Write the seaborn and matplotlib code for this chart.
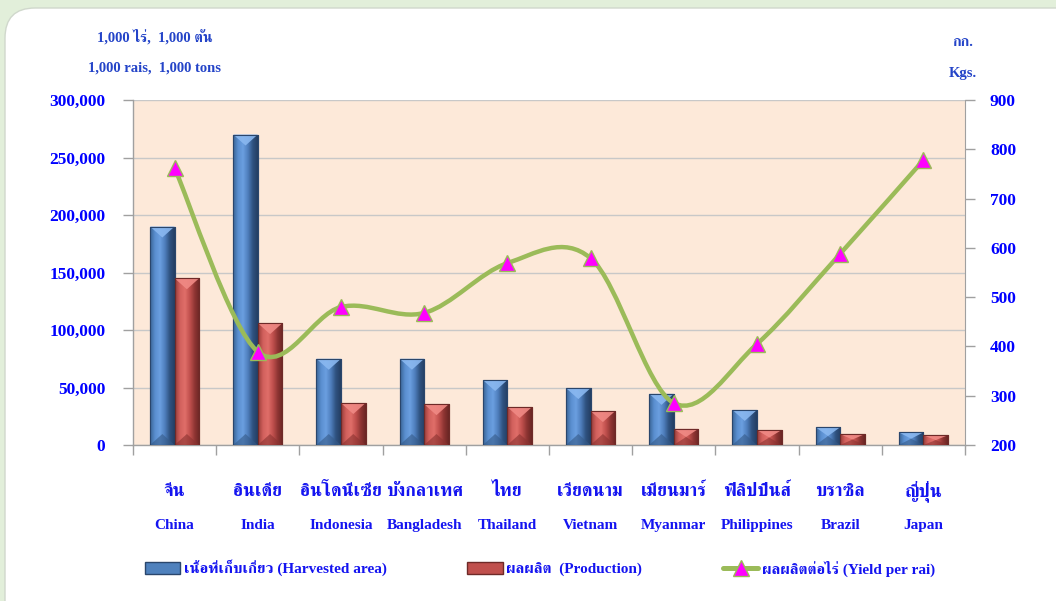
import numpy as np
import pandas as pd
import matplotlib
matplotlib.use("Agg")
import matplotlib.pyplot as plt
import seaborn as sns
from matplotlib import font_manager
from matplotlib.path import Path
from matplotlib.patches import PathPatch, Polygon, FancyBboxPatch, Patch
from matplotlib.lines import Line2D
from matplotlib.colors import LinearSegmentedColormap

# ------------------------
# Data
# ------------------------
countries_th = ["จีน", "อินเดีย", "อินโดนีเซีย", "บังกลาเทศ", "ไทย",
                "เวียดนาม", "เมียนมาร์", "ฟิลิปปินส์", "บราซิล", "ญี่ปุ่น"]
countries_en = ["China", "India", "Indonesia", "Bangladesh", "Thailand",
                "Vietnam", "Myanmar", "Philippines", "Brazil", "Japan"]
harvested_area = [190000, 270000, 75000, 75000, 56500, 49500, 44500, 30500, 15500, 11000]
production = [145000, 106000, 36500, 35500, 33000, 29500, 14000, 13000, 9500, 8500]
yield_per_rai = [762, 389, 480, 468, 569, 579, 285, 405, 588, 778]

left_ticks = [0, 50000, 100000, 150000, 200000, 250000, 300000]
right_ticks = [200, 300, 400, 500, 600, 700, 800, 900]

legend_labels = ["เนื้อที่เก็บเกี่ยว (Harvested area)",
                 "ผลผลิต  (Production)",
                 "ผลผลิตต่อไร่ (Yield per rai)"]

# ------------------------
# Fonts (find something with Thai glyphs)
# ------------------------
def has_thai(path):
    try:
        from fontTools.ttLib import TTFont
        f = TTFont(path, fontNumber=0, lazy=True)
        cmap = f.getBestCmap()
        return cmap is not None and 0x0E08 in cmap
    except Exception:
        return False

thai_fonts = []
for fe in font_manager.fontManager.ttflist:
    if fe.name not in thai_fonts and has_thai(fe.fname):
        thai_fonts.append(fe.name)
thai_fonts.sort(key=lambda n: (0 if "Serif" in n else 1, n))

sns.set_style("white")
families = ["Liberation Serif"] + thai_fonts[:1] + ["DejaVu Serif"]
plt.rcParams["font.family"] = families
plt.rcParams["font.weight"] = "bold"

BLUE_TXT = "#1414f0"
UNIT_TXT = "#2444c8"

# ------------------------
# Figure
# ------------------------
fig = plt.figure(figsize=(10.56, 6.01), dpi=100)
fig.patch.set_facecolor("#e2efda")
panel = FancyBboxPatch((0.05, -0.5), 11.0, 6.01 - 0.08 + 0.5,
                       boxstyle="round,pad=0,rounding_size=0.3",
                       transform=fig.dpi_scale_trans, facecolor="white",
                       edgecolor="#d0d8cc", linewidth=1, zorder=-5)
fig.patches.append(panel)

ax = fig.add_axes([133 / 1056, 1 - 445 / 601, 832 / 1056, 345 / 601])
ax.set_facecolor("#fde9d9")

df = pd.DataFrame({
    "country": countries_en * 2,
    "value": harvested_area + production,
    "series": ["area"] * 10 + ["production"] * 10,
})

sns.barplot(data=df, x="country", y="value", hue="series", order=countries_en,
            hue_order=["area", "production"],
            palette={"area": "#4f81bd", "production": "#c0504d"},
            width=0.59, saturation=1, legend=False, ax=ax, zorder=3)

blue_cmap = LinearSegmentedColormap.from_list(
    "b", ["#3a6596", "#5a8fd0", "#6b9fe0", "#4f7fbd", "#2f5280", "#243f63"])
red_cmap = LinearSegmentedColormap.from_list(
    "r", ["#9a3c39", "#d2615d", "#e06e69", "#c0504d", "#8e3533", "#6a2624"])
grad = np.linspace(0, 1, 64).reshape(1, -1)
px = 300000 / 345.0

for p in list(ax.patches):
    x, w, h = p.get_x(), p.get_width(), p.get_height()
    is_blue = (x + w / 2) - np.floor(x + w / 2 + 0.5) < 0
    cmap = blue_cmap if is_blue else red_cmap
    edge = "#2a466c" if is_blue else "#6e2a28"
    p.set_edgecolor(edge)
    p.set_linewidth(0.8)
    im = ax.imshow(grad, cmap=cmap, extent=[x, x + w, 0, h], aspect="auto",
                   zorder=3.1, interpolation="bilinear")
    im.set_clip_path(p)
    d = min(11 * px, h / 2)
    top = "#8ab8f0" if is_blue else "#f08a85"
    bot = "#355a88" if is_blue else "#8a3230"
    ax.add_patch(Polygon([(x, h), (x + w, h), (x + w / 2, h - d)], closed=True,
                         facecolor=top, edgecolor="none", alpha=0.9, zorder=3.2))
    ax.add_patch(Polygon([(x, 0), (x + w, 0), (x + w / 2, d)], closed=True,
                         facecolor=bot, edgecolor="none", alpha=0.6, zorder=3.2))
    ax.add_patch(Polygon([(x, 0), (x, h), (x + w, h), (x + w, 0)], closed=True,
                         facecolor="none", edgecolor=edge, linewidth=0.8, zorder=3.3))

ax.set_xlim(-0.5, 9.5)
ax.set_ylim(0, 300000)
ax.set_yticks(left_ticks)
ax.set_yticklabels([f"{v:,}" for v in left_ticks], color="#0000ff",
                   fontsize=12.5, fontweight="bold")
ax.yaxis.grid(True, color="#c8c8c8", linewidth=1)
ax.set_axisbelow(True)
ax.set_xlabel("")
ax.set_ylabel("")
ax.set_xticks([])
ax.set_xticks(np.arange(-0.5, 10, 1), minor=True)
ax.tick_params(axis="x", which="minor", length=7, width=1, color="#a0a0a0",
               direction="out", bottom=True)
ax.tick_params(axis="y", length=7, width=1, color="#a0a0a0", pad=13,
               direction="out", left=True)
for s in ["left", "bottom"]:
    ax.spines[s].set_color("#a0a0a0")
    ax.spines[s].set_linewidth(1)
ax.spines["top"].set_visible(False)
ax.spines["right"].set_visible(False)

for i, (th, en) in enumerate(zip(countries_th, countries_en)):
    ax.text(i, -0.134, th, transform=ax.get_xaxis_transform(), ha="center", va="center",
            fontsize=13, color=BLUE_TXT, fontweight="bold")
    ax.text(i, -0.232, en, transform=ax.get_xaxis_transform(), ha="center", va="center",
            fontsize=11, color=BLUE_TXT, fontweight="bold")

# ------------------------
# Yield line (smoothed, secondary axis)
# ------------------------
ax2 = ax.twinx()
ax2.set_ylim(200, 900)
ax2.set_yticks(right_ticks)
ax2.set_yticklabels([str(v) for v in right_ticks], color="#0000ff",
                    fontsize=12.5, fontweight="bold")
ax2.tick_params(axis="y", length=7, width=1, color="#a0a0a0", pad=11,
                direction="out", right=True)
for s in ["left", "bottom", "top"]:
    ax2.spines[s].set_visible(False)
ax2.spines["right"].set_color("#a0a0a0")

xs = np.arange(len(yield_per_rai), dtype=float)
ys = np.array(yield_per_rai, dtype=float)
pts = np.column_stack([xs, ys])
verts = [tuple(pts[0])]
codes = [Path.MOVETO]
n = len(pts)
for i in range(n - 1):
    p0 = pts[max(i - 1, 0)]
    p1 = pts[i]
    p2 = pts[i + 1]
    p3 = pts[min(i + 2, n - 1)]
    c1 = p1 + (p2 - p0) / 6.0
    c2 = p2 - (p3 - p1) / 6.0
    verts += [tuple(c1), tuple(c2), tuple(p2)]
    codes += [Path.CURVE4] * 3
ax2.add_patch(PathPatch(Path(verts, codes), facecolor="none", edgecolor="#9bbb59",
                        linewidth=3.2, zorder=5, capstyle="round"))
ax2.plot(xs, ys, linestyle="none", marker="^", markersize=11,
         markerfacecolor="#ff00ff", markeredgecolor="#9bbb59", markeredgewidth=1, zorder=6)
ax2.set_xlim(-0.5, 9.5)

# ------------------------
# Unit labels
# ------------------------
fig.text(155 / 1056, 1 - 37 / 601, "1,000 ไร่,  1,000 ตัน", ha="center", va="center",
         fontsize=10.5, color=UNIT_TXT, fontweight="bold")
fig.text(155 / 1056, 1 - 68 / 601, "1,000 rais,  1,000 tons", ha="center", va="center",
         fontsize=10.5, color=UNIT_TXT, fontweight="bold")
fig.text(963 / 1056, 1 - 43 / 601, "กก.", ha="center", va="center",
         fontsize=10.5, color=UNIT_TXT, fontweight="bold")
fig.text(963 / 1056, 1 - 74 / 601, "Kgs.", ha="center", va="center",
         fontsize=10.5, color=UNIT_TXT, fontweight="bold")

# ------------------------
# Legend
# ------------------------
handles = [
    Patch(facecolor="#4f81bd", edgecolor="#2a466c"),
    Patch(facecolor="#c0504d", edgecolor="#6e2a28"),
    Line2D([0], [0], color="#9bbb59", linewidth=3.6, marker="^", markersize=11,
           markerfacecolor="#ff00ff", markeredgecolor="#9bbb59"),
]
leg = fig.legend(handles, legend_labels, loc="center", bbox_to_anchor=(540 / 1056, 1 - 568 / 601),
                 ncol=3, frameon=False, fontsize=11, handlelength=2.3, handleheight=0.9,
                 handletextpad=0.25, columnspacing=5.3)
for t in leg.get_texts():
    t.set_color(BLUE_TXT)
    t.set_fontweight("bold")

fig.savefig("out.png", dpi=100, facecolor=fig.get_facecolor())
